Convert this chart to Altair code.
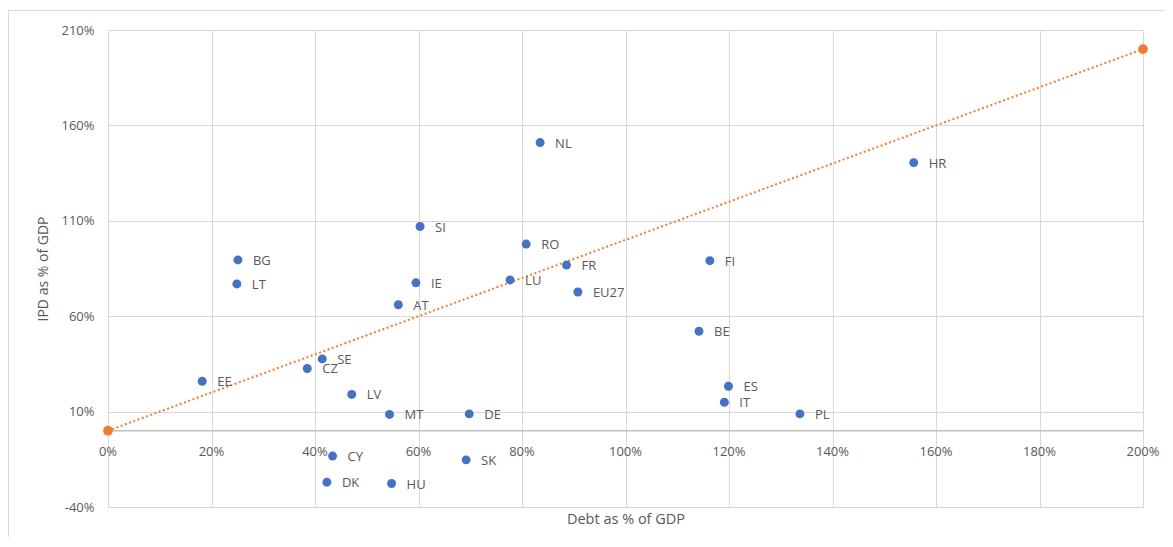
import altair as alt
import pandas as pd

countries = ["NL", "HR", "SI", "RO", "BG", "FI", "FR", "IE", "LT", "LU", "EU27", "AT",
             "BE", "SE", "CZ", "EE", "ES", "LV", "IT", "MT", "DE", "PL", "CY", "SK",
             "DK", "HU"]
debt = [83.5, 155.7, 60.3, 80.8, 25.1, 116.3, 88.6, 59.5, 24.9, 77.7, 90.8, 56.1,
        114.2, 41.4, 38.5, 18.2, 119.9, 47.1, 119.1, 54.4, 69.8, 133.7, 43.4, 69.2,
        42.3, 54.8]
ipd = [151.0, 140.5, 107.0, 97.8, 89.5, 89.1, 86.8, 77.5, 76.9, 79.0, 72.7, 66.0,
       52.1, 37.6, 32.6, 25.9, 23.3, 19.0, 14.9, 8.5, 8.8, 8.8, -13.3, -15.3,
       -27.0, -27.7]

line_x = [0, 200]
line_y = [0, 200]

x_ticks = [0, 20, 40, 60, 80, 100, 120, 140, 160, 180, 200]
y_ticks = [-40, 10, 60, 110, 160, 210]

pts = pd.DataFrame({"country": countries, "debt": debt, "ipd": ipd})
ref = pd.DataFrame({"debt": line_x, "ipd": line_y})
xt = pd.DataFrame({"v": x_ticks, "y": [0] * len(x_ticks),
                   "lab": [f"{v}%" for v in x_ticks]})

FONT = "Open Sans"
GRAY = "#595959"
W, H = 1035, 477

xs = alt.Scale(domain=[0, 200], nice=False, zero=False)
ys = alt.Scale(domain=[-40, 210], nice=False, zero=False)

x_axis = alt.Axis(values=x_ticks, labels=False, ticks=False, domain=False,
                  grid=True, gridColor="#d9d9d9", gridWidth=1,
                  title="Debt as % of GDP", titleFont=FONT, titleFontSize=14.5,
                  titleFontWeight="normal", titleColor=GRAY, titlePadding=5)
y_axis = alt.Axis(values=y_ticks, labelExpr="datum.value + '%'", ticks=False,
                  domain=False, grid=True, gridColor="#d9d9d9", gridWidth=1,
                  labelFont=FONT, labelFontSize=13, labelColor=GRAY,
                  labelPadding=14, title="IPD as % of GDP", titleFont=FONT,
                  titleFontSize=14, titleFontWeight="normal", titleColor=GRAY,
                  titlePadding=10)

border = alt.Chart(pd.DataFrame({"a": [0]})).mark_rect(
    fill=None, stroke="#d9d9d9", strokeWidth=1
).encode(x=alt.value(-99.5), x2=alt.value(W + 60), y=alt.value(-19.5),
         y2=alt.value(H + 60))

base = alt.Chart(pts).mark_point(opacity=0).encode(
    x=alt.X("debt:Q", scale=xs, axis=x_axis),
    y=alt.Y("ipd:Q", scale=ys, axis=y_axis),
)

zero_rule = alt.Chart(pd.DataFrame({"z": [0]})).mark_rule(
    color="#bfbfbf", strokeWidth=1.5
).encode(y=alt.Y("z:Q", scale=ys))

ref_line = alt.Chart(ref).mark_line(
    color="#ED7D31", strokeWidth=2, strokeDash=[2, 2.5]
).encode(x=alt.X("debt:Q", scale=xs), y=alt.Y("ipd:Q", scale=ys))

ref_pts = alt.Chart(ref).mark_circle(
    color="#ED7D31", size=95, opacity=1
).encode(x=alt.X("debt:Q", scale=xs), y=alt.Y("ipd:Q", scale=ys))

dots = alt.Chart(pts).mark_circle(color="#4472C4", size=80, opacity=1).encode(
    x=alt.X("debt:Q", scale=xs), y=alt.Y("ipd:Q", scale=ys)
)

labels = alt.Chart(pts).mark_text(
    align="left", baseline="middle", dx=15, dy=1, font=FONT, fontSize=13,
    color=GRAY
).encode(x=alt.X("debt:Q", scale=xs), y=alt.Y("ipd:Q", scale=ys),
         text="country:N")

xlabels = alt.Chart(xt).mark_text(
    align="center", baseline="middle", dy=21, font=FONT, fontSize=13,
    color=GRAY
).encode(x=alt.X("v:Q", scale=xs), y=alt.Y("y:Q", scale=ys), text="lab:N")

chart = alt.layer(
    border, base, zero_rule, ref_line, ref_pts, dots, labels, xlabels
).properties(
    width=W, height=H,
    autosize=alt.AutoSizeParams(type="none"),
    padding={"left": 100, "top": 22, "right": 22, "bottom": 30},
).configure_view(stroke=None).configure(background="white")

chart.save("out.html", embed_options={"renderer": "svg", "actions": False})
